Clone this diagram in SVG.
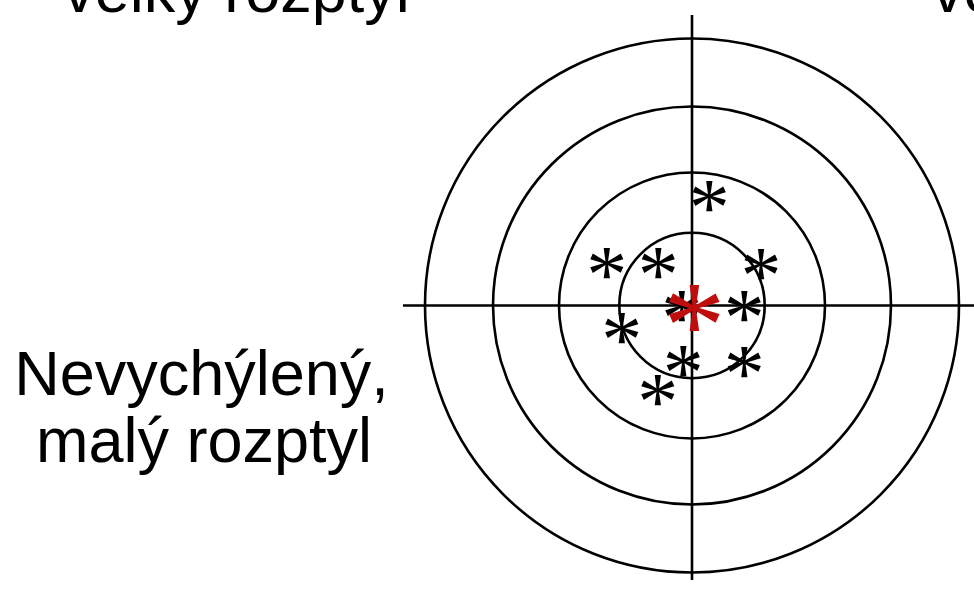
<svg xmlns="http://www.w3.org/2000/svg" width="974" height="594" viewBox="0 0 974 594">
<style>
.lbl{font-family:"Liberation Sans",Arial,sans-serif;font-size:63px;fill:#000;text-anchor:middle}
.ring{fill:none;stroke:#000;stroke-width:2.6}
.ax{stroke:#000;stroke-width:2.6}
.st{font-family:"Liberation Serif","Times New Roman",serif;font-size:82px;fill:#000;text-anchor:middle}
.red{fill:#c00d0d;font-size:125px}
</style>
<rect width="974" height="594" fill="#fff"/>
<g id="labels">
<text class="lbl" x="236.5" y="12">velký rozptyl</text>
<text class="lbl" x="932" y="12" style="text-anchor:start">velký rozptyl</text>
<text class="lbl" x="201.5" y="395">Nevychýlený,</text>
<text class="lbl" x="204" y="462">malý rozptyl</text>
</g>
<g id="target">
<circle class="ring" cx="692" cy="305.5" r="267"/>
<circle class="ring" cx="692" cy="305.5" r="199"/>
<circle class="ring" cx="692" cy="305.5" r="133"/>
<circle class="ring" cx="692" cy="305.5" r="72.7"/>
<line class="ax" x1="692" y1="15" x2="692" y2="580"/>
<line class="ax" x1="403" y1="305.5" x2="974" y2="305.5"/>
</g>
<g id="shots">
<text class="st" x="709.3" y="235.2">*</text>
<text class="st" x="606.7" y="301.8">*</text>
<text class="st" x="658.3" y="301.8">*</text>
<text class="st" x="761" y="302.5">*</text>
<text class="st" x="744.3" y="345.2">*</text>
<text class="st" x="681.7" y="345.2">*</text>
<text class="st" x="621.7" y="366.8">*</text>
<text class="st" x="683.3" y="400.2">*</text>
<text class="st" x="744.3" y="401.2">*</text>
<text class="st" x="657.7" y="428.5">*</text>
<text class="st red" x="694.3" y="366.9">*</text>
</g>
</svg>
